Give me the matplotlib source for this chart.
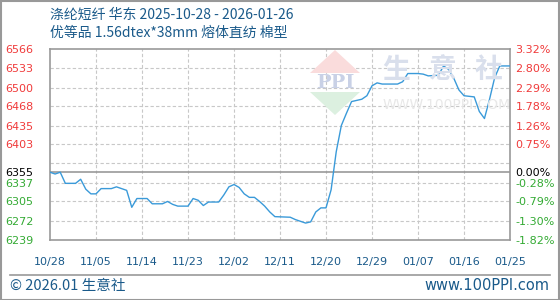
import matplotlib
matplotlib.use("Agg")
import matplotlib.pyplot as plt
from matplotlib.patches import Polygon, Rectangle
from matplotlib.lines import Line2D

# day offset from 2025-10-28 and price (yuan/ton)
days = [0, 1, 2, 3, 5, 6, 7, 8, 9, 10, 12, 13, 14, 15, 16, 17, 19, 20, 21,
        22, 23, 24, 25, 27, 28, 29, 30, 31, 33, 34, 35, 36, 37, 38, 39, 40,
        41, 42, 43, 44, 47, 48, 49, 50, 51, 52, 53, 54, 55, 56, 57, 58, 59,
        61, 62, 63, 64, 65, 68, 69, 70, 72, 73, 74, 76, 77, 78, 79, 80, 81,
        83, 84, 85, 86, 87, 88, 90]
prices = [6355, 6352, 6355, 6336, 6336, 6343, 6326, 6318, 6318, 6327, 6327,
          6330, 6327, 6324, 6295, 6310, 6310, 6301, 6301, 6301, 6305, 6300,
          6297, 6297, 6310, 6307, 6298, 6304, 6304, 6316, 6330, 6334, 6329,
          6318, 6312, 6312, 6305, 6297, 6287, 6279, 6278, 6274, 6271, 6268,
          6270, 6287, 6294, 6294, 6325, 6390, 6435, 6456, 6476, 6480, 6486,
          6503, 6508, 6506, 6506, 6510, 6524, 6524, 6523, 6520, 6521, 6537,
          6531, 6516, 6496, 6486, 6484, 6459, 6447, 6480, 6517, 6537, 6537]

base = 6355
grid_vals = [6566, 6533, 6500, 6468, 6435, 6403, 6370, 6337, 6305, 6272, 6239]
left_vals = [6566, 6533, 6500, 6468, 6435, 6403, 6355, 6337, 6305, 6272, 6239]
right_labels = ["3.32%", "2.80%", "2.29%", "1.78%", "1.26%", "0.75%", "0.00%",
                "-0.28%", "-0.79%", "-1.30%", "-1.82%"]
xtick_pos = [0, 9, 18, 27, 36, 45, 54, 63, 72, 81, 90]
xtick_labels = ["10/28", "11/05", "11/14", "11/23", "12/02", "12/11",
                "12/20", "12/29", "01/07", "01/16", "01/25"]

title1 = "涤纶短纤 华东 2025-10-28 - 2026-01-26"
title2 = "优等品 1.56dtex*38mm 熔体直纺 棉型"

cjk = ["Noto Sans CJK SC", "DejaVu Sans"]
blue_txt = "#1a5a8a"
red = "#f03a3a"
green = "#33aa33"

fig = plt.figure(figsize=(5.6, 3.0), dpi=100)
ax = fig.add_axes([50 / 560, 60 / 300, 460 / 560, 191 / 300])
ax.set_xlim(0, 90)
ax.set_ylim(6239, 6566)

# watermark logo
logo = dict(transform=fig.transFigure, zorder=0)
fig.patches.append(Polygon([(310 / 560, 227 / 300), (360 / 560, 227 / 300),
                            (335 / 560, 250 / 300)], closed=True,
                           fc="#fadcdc", ec="none", **logo))
fig.patches.append(Polygon([(310 / 560, 208 / 300), (360 / 560, 208 / 300),
                            (335 / 560, 185 / 300)], closed=True,
                           fc="#dcf0e0", ec="none", **logo))
fig.text(335 / 560, 217 / 300, "PPI", ha="center", va="center", fontsize=14,
         fontweight="bold", color="#c9d1e6", family="DejaVu Serif", zorder=0)
for cx, ch in zip([396, 443, 488], ["生", "意", "社"]):
    fig.text(cx / 560, 230 / 300, ch, ha="center", va="center", fontsize=20,
             fontweight="bold", color="#d9dfec", family=cjk, zorder=0)
fig.text(447 / 560, 195 / 300, "WWW.100PPI.COM", ha="center", va="center",
         fontsize=10, color="#e8e8e8", zorder=0)
ax.patch.set_alpha(0)

# grid
for v in grid_vals[1:-1]:
    ax.axhline(v, color="#c8c8c8", lw=0.8, ls=(0, (3, 2)), zorder=1)
for p in xtick_pos[1:-1]:
    ax.axvline(p, color="#c8c8c8", lw=0.8, ls=(0, (3, 2)), zorder=1)
ax.axhline(base, color="#999999", lw=1.2, zorder=2)

ax.plot(days, prices, color="#3a9ad9", lw=1.0, zorder=3)

for s in ax.spines.values():
    s.set_color("#999999")
    s.set_linewidth(1.2)

ax.set_xticks(xtick_pos)
ax.set_xticklabels(xtick_labels, fontsize=8, color=blue_txt)
ax.tick_params(axis="x", length=0, pad=12)

ax.set_yticks(left_vals)
ax.set_yticklabels([str(v) for v in left_vals], fontsize=8)
ax.tick_params(axis="y", length=0, pad=12)

ax2 = ax.twinx()
ax2.set_ylim(ax.get_ylim())
ax2.set_yticks(left_vals)
ax2.set_yticklabels(right_labels, fontsize=8)
ax2.tick_params(axis="y", length=0, pad=4)
for s in ax2.spines.values():
    s.set_visible(False)

for axis in (ax, ax2):
    for v, lab in zip(left_vals, axis.get_yticklabels()):
        lab.set_color(red if v > base else ("black" if v == base else green))

# titles
fig.text(50 / 560, 285 / 300, title1, fontsize=10, color=blue_txt,
         family=cjk, va="center")
fig.text(50 / 560, 267 / 300, title2, fontsize=10, color=blue_txt,
         family=cjk, va="center")

# footer and border
fig.add_artist(Line2D([10 / 560, 550 / 560], [25 / 300, 25 / 300],
                      transform=fig.transFigure, color="#999999", lw=1.2))
fig.patches.append(Rectangle((0.5 / 560, 0.5 / 300), 558.5 / 560, 298.5 / 300,
                             transform=fig.transFigure, fill=False,
                             ec="#999999", lw=1.5))
fig.text(10 / 560, 14 / 300, "© 2026.01 生意社", fontsize=10.5, color=blue_txt,
         family=cjk, va="center")
fig.text(549 / 560, 14 / 300, "www.100PPI.com", fontsize=10.5, color=blue_txt,
         va="center", ha="right")

fig.savefig("out.png", dpi=100)
